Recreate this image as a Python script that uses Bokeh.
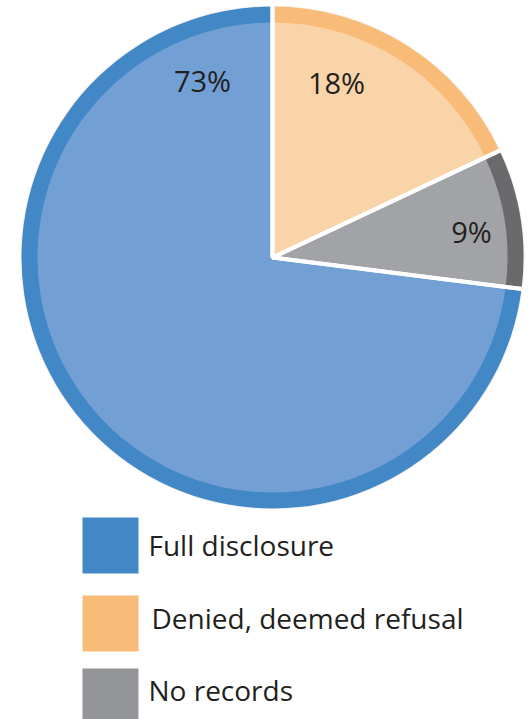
import math
from bokeh.plotting import figure
from bokeh.models import Range1d, ColumnDataSource
from bokeh.core.properties import value
from bokeh.embed import file_html
from bokeh.resources import INLINE

# ---- data ----
categories = ["Denied, deemed refusal", "No records", "Full disclosure"]
shares = [18, 9, 73]
pct_labels = ["18%", "9%", "73%"]
legend_order = ["Full disclosure", "Denied, deemed refusal", "No records"]

# ---- styles / layout ----
W, H = 531, 719
ring_colors = {"Full disclosure": "#4287c6", "Denied, deemed refusal": "#f9bb78", "No records": "#6a6a6d"}
inner_colors = {"Full disclosure": "#729fd4", "Denied, deemed refusal": "#fad4a9", "No records": "#a2a3a7"}
legend_colors = {"Full disclosure": "#4287c6", "Denied, deemed refusal": "#f8bb78", "No records": "#939598"}
CX, CY = 272, H - 257
R = 251
RING = 16
label_pos = {"73%": (202, H - 80), "18%": (336, H - 82), "9%": (471, H - 231)}
FONT = "Open Sans"
TEXT_COLOR = "#231f20"

# angles: start at top, go clockwise
total = float(sum(shares))
starts, ends = [], []
cum = 0.0
for s in shares:
    a0 = math.pi / 2 - 2 * math.pi * (cum + s) / total
    a1 = math.pi / 2 - 2 * math.pi * cum / total
    starts.append(a0)
    ends.append(a1)
    cum += s

src = ColumnDataSource(dict(
    cat=categories,
    start=starts,
    end=ends,
    ring=[ring_colors[c] for c in categories],
    inner=[inner_colors[c] for c in categories],
))

p = figure(width=W, height=H, x_range=Range1d(0, W), y_range=Range1d(0, H),
           output_backend="svg", toolbar_location=None, min_border=0)
p.axis.visible = False
p.grid.visible = False
p.outline_line_color = None
p.background_fill_color = "white"
p.border_fill_color = "white"

# faint halo
p.wedge(x=CX, y=CY, radius=R + 2, start_angle="start", end_angle="end", source=src,
        fill_color="#f2f2f2", line_color=None)
# outer ring
p.wedge(x=CX, y=CY, radius=R, start_angle="start", end_angle="end", source=src,
        fill_color="ring", line_color=None)
# inner face
p.wedge(x=CX, y=CY, radius=R - RING, start_angle="start", end_angle="end", source=src,
        fill_color="inner", line_color=None)
# white separators
p.wedge(x=CX, y=CY, radius=R + 3, start_angle="start", end_angle="end", source=src,
        fill_color=None, line_color="white", line_width=4)

# percentage labels
for c, lab in zip(categories, pct_labels):
    x, y = label_pos[lab]
    p.text(x=[x], y=[y], text=[lab], text_font=value(FONT), text_font_size="29px",
           text_color=TEXT_COLOR, text_align="center", text_baseline="alphabetic")

# legend
sq_x0, sq_size = 82, 56
sq_tops = [517, 595, 668]
txt_x = [148, 151, 148]
txt_base = [544, 617, 689]
for i, c in enumerate(legend_order):
    top = sq_tops[i]
    p.quad(left=[sq_x0], right=[sq_x0 + sq_size], top=[H - top], bottom=[H - top - sq_size],
           fill_color=legend_colors[c], line_color=None)
    p.text(x=[txt_x[i]], y=[H - txt_base[i]], text=[c], text_font=value(FONT),
           text_font_size="28px", text_color=TEXT_COLOR, text_align="left",
           text_baseline="alphabetic")

open("out.html", "w").write(file_html(p, INLINE))
